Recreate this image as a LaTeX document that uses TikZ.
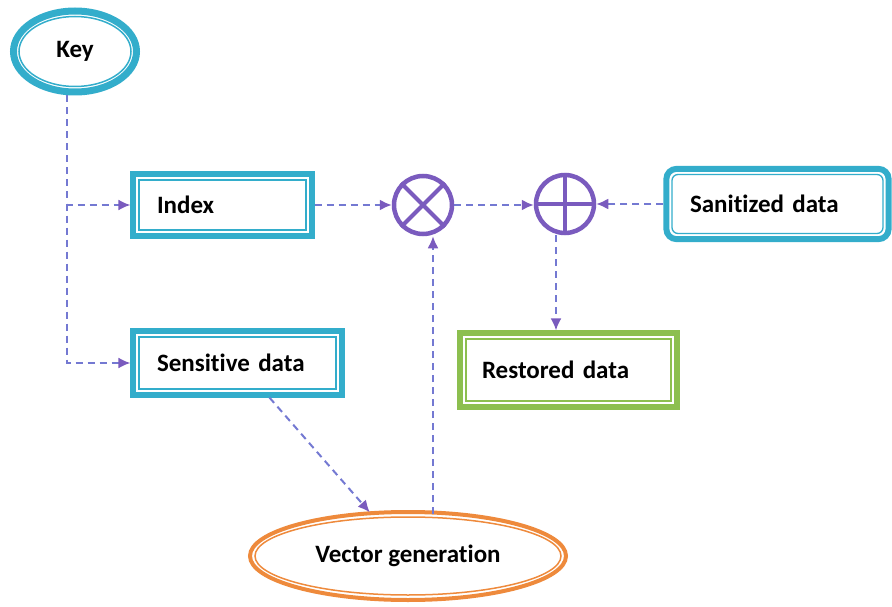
\documentclass[tikz,border=0pt]{standalone}
\usepackage{fontspec}
\setmainfont[Ligatures=NoCommon]{Carlito}
\usetikzlibrary{arrows.meta,shapes.geometric}
\definecolor{boxteal}{HTML}{33ADCB}
\definecolor{boxgreen}{HTML}{8CBF4F}
\definecolor{ovorange}{HTML}{EE8A3C}
\definecolor{oppurple}{HTML}{7A5BBE}
\definecolor{flowcol}{HTML}{7479D2}
\tikzset{
  txt/.style={font=\fontsize{25}{29}\selectfont\bfseries, text=black},
  inbox/.style={txt, rectangle, draw=#1, line width=1.3pt, fill=white,
    align=left, inner ysep=0pt, outer sep=8.6pt},
  frame/.style={draw=#1, line width=6pt},
  opnode/.style={circle, draw=oppurple, line width=4.5pt, minimum size=58pt, fill=white},
  flow/.style={draw=flowcol, line width=2pt, dash pattern=on 7pt off 5pt,
    -{Latex[length=12pt,width=11pt,color=oppurple]}}
}
\begin{document}
\begin{tikzpicture}[x=1pt,y=-1pt]
  \useasboundingbox (0,0) rectangle (892,607);

  % Key
  \node[txt, ellipse, draw=boxteal, line width=1.5pt, minimum width=112pt,
        minimum height=70pt, outer sep=9pt] (key) at (75,51.5) {Key};
  \draw[frame=boxteal, line width=7pt] (key.center) ellipse[x radius=61.5, y radius=40.5];

  % Boxes
  \node[inbox=boxteal, minimum width=167pt, minimum height=50pt,
        text width=131pt, inner xsep=18pt] (idx) at (222.5,205) {Index};
  \node[inbox=boxteal, minimum width=197pt, minimum height=52pt,
        text width=161pt, inner xsep=18pt] (sens) at (237.5,363) {Sensitive data};
  \node[inbox=boxgreen, minimum width=205pt, minimum height=62pt,
        text width=173pt, inner xsep=16pt] (rest) at (568.5,370) {Restored data};
  \node[inbox=boxteal, rounded corners=6pt, minimum width=211pt, minimum height=59pt,
        text width=175pt, inner xsep=18pt] (san) at (777.5,204) {Sanitized data};
  \foreach \n/\c in {idx/boxteal, sens/boxteal, rest/boxgreen}
    \draw[frame=\c] ([shift={(3,3)}]\n.north west)
      rectangle ([shift={(-3,-3)}]\n.south east);
  \draw[frame=boxteal, rounded corners=10pt] ([shift={(3,3)}]san.north west)
      rectangle ([shift={(-3,-3)}]san.south east);

  % Vector generation
  \node[txt, ellipse, draw=ovorange, line width=1.5pt, minimum width=306pt,
        minimum height=78pt, outer sep=6pt] (vec) at (408,556) {Vector generation};
  \draw[draw=ovorange, line width=4pt] (vec.center) ellipse[x radius=158, y radius=44];

  % Operators
  \node[opnode] (otimes) at (423,205) {};
  \draw[oppurple, line width=4pt] (otimes.north west) -- (otimes.south east)
    (otimes.north east) -- (otimes.south west);
  \node[opnode] (oplus) at (565,204) {};
  \draw[oppurple, line width=4pt] (oplus.north) -- (oplus.south)
    (oplus.west) -- (oplus.east);

  % Flows
  \coordinate (keyfoot) at ([xshift=-8]key.south);
  \draw[flow] (keyfoot) |- (idx.west);
  \draw[flow] (keyfoot) |- (sens.west);
  \draw[flow] (idx.east) -- (otimes.west);
  \draw[flow] (otimes.east) -- (otimes.east -| oplus.west);
  \draw[flow] (san.west) -- (oplus.east);
  \draw[flow] ([xshift=-9]oplus.south) -- ([xshift=-9]oplus.south |- rest.north);
  \draw[flow] ([xshift=32]sens.south) -- (vec);
  \coordinate (vtop) at (433,514);
  \draw[flow] (vtop) -- (vtop |- otimes.south);

\end{tikzpicture}
\end{document}
